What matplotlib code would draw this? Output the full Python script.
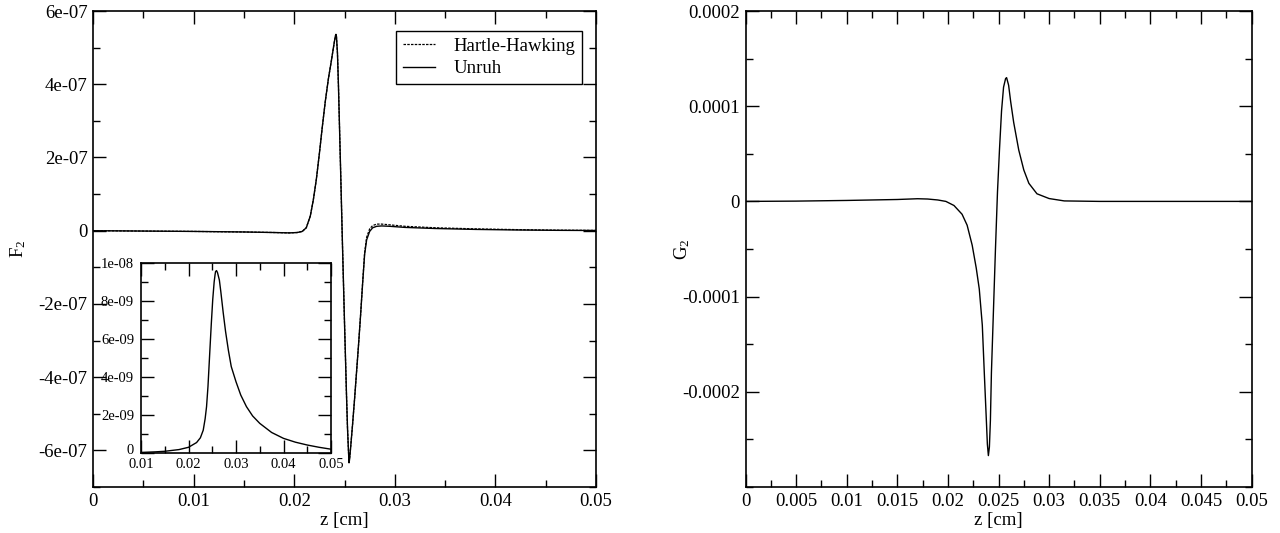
import numpy as np
import matplotlib
matplotlib.use('Agg')
import matplotlib.pyplot as plt
from matplotlib.ticker import MultipleLocator
from matplotlib.transforms import ScaledTranslation

plt.rcParams['font.family'] = ['Liberation Serif', 'DejaVu Serif']

# left panel, F_2 (units of 1e-7)
z_main = [0.000, 0.005, 0.010, 0.015, 0.018, 0.0195, 0.0203, 0.0208, 0.0212, 0.0216,
          0.0219, 0.0222, 0.0225, 0.0228, 0.0231, 0.0234, 0.0237, 0.0239, 0.0240, 0.0241,
          0.02415, 0.0242, 0.0243, 0.0244, 0.0246, 0.0248, 0.0250, 0.0252, 0.0253, 0.0254,
          0.02545, 0.0255, 0.0256, 0.0258, 0.0260, 0.0262, 0.0264, 0.0266, 0.0268, 0.0270,
          0.0272, 0.0275, 0.0278, 0.0282, 0.0287, 0.0295, 0.031, 0.034, 0.038, 0.042,
          0.046, 0.050]
f2_unruh = [0.0, -0.01, -0.02, -0.035, -0.05, -0.06, -0.05, -0.02, 0.08, 0.4,
            0.84, 1.4, 2.1, 2.85, 3.55, 4.15, 4.65, 5.0, 5.17, 5.32,
            5.36, 5.3, 4.85, 3.95, 1.8, -0.4, -2.5, -4.5, -5.4, -6.05,
            -6.34, -6.25, -5.95, -5.3, -4.6, -3.85, -3.1, -2.3, -1.45, -0.65,
            -0.25, -0.02, 0.08, 0.12, 0.13, 0.12, 0.09, 0.06, 0.035, 0.02,
            0.01, 0.005]
f2_hh = [0.0, -0.01, -0.02, -0.035, -0.05, -0.06, -0.05, -0.02, 0.08, 0.4,
         0.84, 1.4, 2.1, 2.85, 3.55, 4.15, 4.65, 5.0, 5.17, 5.32,
         5.36, 5.3, 4.85, 3.95, 1.8, -0.4, -2.5, -4.5, -5.4, -6.05,
         -6.34, -6.25, -5.95, -5.3, -4.6, -3.85, -3.1, -2.3, -1.42, -0.6,
         -0.18, 0.05, 0.14, 0.18, 0.18, 0.16, 0.12, 0.08, 0.05, 0.03,
         0.015, 0.008]

# inset (units of 1e-9)
z_inset = [0.010, 0.013, 0.015, 0.018, 0.020, 0.0217, 0.0225, 0.0231, 0.0235, 0.0238,
           0.0241, 0.0245, 0.0248, 0.0251, 0.0254, 0.0256, 0.0257, 0.0259, 0.0261, 0.0265,
           0.0268, 0.0273, 0.0278, 0.0284, 0.029, 0.030, 0.031, 0.0322, 0.0335, 0.035,
           0.0375, 0.040, 0.0425, 0.045, 0.0475, 0.050]
f_inset = [0.03, 0.06, 0.09, 0.18, 0.3, 0.55, 0.8, 1.2, 1.8, 2.44,
           3.5, 5.4, 6.8, 8.07, 9.0, 9.4, 9.55, 9.6, 9.5, 9.1,
           8.5, 7.4, 6.4, 5.4, 4.55, 3.75, 3.05, 2.44, 1.95, 1.56,
           1.08, 0.77, 0.57, 0.42, 0.3, 0.2]

# right panel, G_2 (units of 1e-4)
z_g = [0.000, 0.005, 0.010, 0.015, 0.017, 0.018, 0.019, 0.0198, 0.0206, 0.0214,
       0.0219, 0.0224, 0.0228, 0.0231, 0.0234, 0.0236, 0.0238, 0.0239, 0.0240, 0.0241,
       0.0242, 0.0243, 0.0245, 0.0247, 0.0249, 0.0251, 0.0253, 0.0255, 0.0257, 0.0258,
       0.0260, 0.0262, 0.0265, 0.0270, 0.0275, 0.0280, 0.0288, 0.0300, 0.0315, 0.035,
       0.050]
g2 = [0.0, 0.003, 0.01, 0.02, 0.028, 0.025, 0.015, 0.0, -0.043, -0.135,
      -0.25, -0.46, -0.7, -0.92, -1.3, -1.81, -2.3, -2.55, -2.67, -2.58,
      -2.3, -1.8, -1.15, -0.5, 0.1, 0.55, 0.95, 1.2, 1.29, 1.30,
      1.22, 1.05, 0.83, 0.54, 0.33, 0.19, 0.08, 0.03, 0.005, 0.0,
      0.0]


def style_axis(ax, labelsize=13.5, pad=4):
    ax.tick_params(which='both', direction='in', top=True, right=True,
                   labelsize=labelsize, pad=pad, width=1.0)
    ax.tick_params(which='major', length=9.5)
    ax.tick_params(which='minor', length=5)
    for s in ax.spines.values():
        s.set_linewidth(1.2)


fig = plt.figure(figsize=(12.8, 5.33), dpi=100)

ax1 = fig.add_axes([93 / 1280, 46 / 533, 503 / 1280, 476 / 533])
ax1.plot(z_main, np.array(f2_hh) * 1e-7, color='black', lw=0.9,
         linestyle=(0, (2, 1)), label='Hartle-Hawking')
ax1.plot(z_main, np.array(f2_unruh) * 1e-7, color='black', lw=1.0, label='Unruh')
ax1.set_xlim(0, 0.05)
ax1.set_ylim(-7e-07, 6e-07)
ax1.set_xticks([0, 0.01, 0.02, 0.03, 0.04, 0.05])
ax1.set_xticklabels(['0', '0.01', '0.02', '0.03', '0.04', '0.05'])
ax1.xaxis.set_minor_locator(MultipleLocator(0.005))
ax1.set_yticks([-6e-07, -4e-07, -2e-07, 0, 2e-07, 4e-07, 6e-07])
ax1.set_yticklabels(['-6e-07', '-4e-07', '-2e-07', '0', '2e-07', '4e-07', '6e-07'])
ax1.yaxis.set_minor_locator(MultipleLocator(1e-07))
style_axis(ax1)
ax1.set_xlabel('z [cm]', fontsize=13.5, labelpad=2)
ax1.set_ylabel(r'$\mathregular{F_2}$', fontsize=13.5)
ax1.yaxis.set_label_coords(-0.13, 0.5)
leg = ax1.legend(loc='upper right', bbox_to_anchor=(0.972, 0.958), fontsize=13.5,
                 fancybox=False, edgecolor='black', framealpha=1, borderaxespad=0,
                 handlelength=1.7, handletextpad=1.0, borderpad=0.35, labelspacing=0.3)
leg.get_frame().set_linewidth(1.0)

# inset
axi = fig.add_axes([141 / 1280, 80 / 533, 190 / 1280, 190 / 533])
axi.plot(z_inset, np.array(f_inset) * 1e-9, color='black', lw=1.0)
axi.set_xlim(0.01, 0.05)
axi.set_ylim(0, 1e-08)
axi.set_xticks([0.01, 0.02, 0.03, 0.04, 0.05])
axi.set_xticklabels(['0.01', '0.02', '0.03', '0.04', '0.05'])
axi.xaxis.set_minor_locator(MultipleLocator(0.005))
axi.set_yticks([0, 2e-09, 4e-09, 6e-09, 8e-09, 1e-08])
axi.set_yticklabels(['0', '2e-09', '4e-09', '6e-09', '8e-09', '1e-08'])
axi.yaxis.set_minor_locator(MultipleLocator(1e-09))
style_axis(axi, labelsize=10.5, pad=3.5)
axi.tick_params(axis='y', pad=5)
# lift the inset's "0" a little so it clears "0.01"
zero_lbl = axi.get_yticklabels()[0]
zero_lbl.set_transform(zero_lbl.get_transform() + ScaledTranslation(0, 3 / 72, fig.dpi_scale_trans))

# right panel
ax2 = fig.add_axes([745.5 / 1280, 46 / 533, 506 / 1280, 476 / 533])
ax2.plot(z_g, np.array(g2) * 1e-4, color='black', lw=1.0)
ax2.set_xlim(0, 0.05)
ax2.set_ylim(-0.0003, 0.0002)
ax2.set_xticks([0, 0.005, 0.01, 0.015, 0.02, 0.025, 0.03, 0.035, 0.04, 0.045, 0.05])
ax2.set_xticklabels(['0', '0.005', '0.01', '0.015', '0.02', '0.025', '0.03',
                     '0.035', '0.04', '0.045', '0.05'])
ax2.xaxis.set_minor_locator(MultipleLocator(0.0025))
ax2.set_yticks([-0.0002, -0.0001, 0, 0.0001, 0.0002])
ax2.set_yticklabels(['-0.0002', '-0.0001', '0', '0.0001', '0.0002'])
ax2.yaxis.set_minor_locator(MultipleLocator(0.00005))
style_axis(ax2)
ax2.set_xlabel('z [cm]', fontsize=13.5, labelpad=2)
ax2.set_ylabel(r'$\mathregular{G_2}$', fontsize=13.5)
ax2.yaxis.set_label_coords(-0.105, 0.5)

fig.savefig('out.png', dpi=100)
